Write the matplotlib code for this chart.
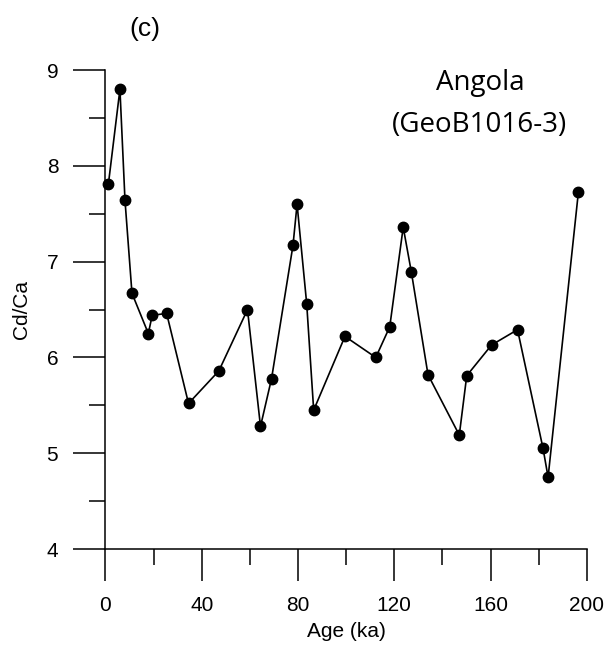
import matplotlib.pyplot as plt
from matplotlib.ticker import MultipleLocator

# Cd/Ca record, core GeoB1016-3 (Angola)
age_ka = [1.2, 6.0, 8.1, 11.0, 17.8, 19.4, 25.4, 34.5, 47.1, 59.0,
          64.4, 69.0, 77.9, 79.6, 83.6, 86.5, 99.5, 112.3, 118.1, 123.7,
          127.1, 134.0, 147.0, 150.1, 160.4, 171.2, 181.8, 183.9, 196.5]
cd_ca = [7.81, 8.80, 7.64, 6.67, 6.25, 6.44, 6.46, 5.52, 5.86, 6.50,
         5.28, 5.78, 7.17, 7.60, 6.56, 5.45, 6.22, 6.00, 6.32, 7.36,
         6.89, 5.82, 5.19, 5.81, 6.13, 6.29, 5.05, 4.75, 7.73]

plt.rcParams['font.family'] = ['Liberation Sans', 'DejaVu Sans']

fig = plt.figure(figsize=(6.07, 6.49), dpi=100)
ax = fig.add_axes([0.1738, 0.154, 0.793, 0.738])

ax.plot(age_ka, cd_ca, color='black', lw=1.2, marker='o', ms=7.5, clip_on=False)

ax.set_xlim(0, 200)
ax.set_ylim(4, 9)
ax.xaxis.set_major_locator(MultipleLocator(40))
ax.xaxis.set_minor_locator(MultipleLocator(20))
ax.yaxis.set_major_locator(MultipleLocator(1))
ax.yaxis.set_minor_locator(MultipleLocator(0.5))

for side in ['top', 'right']:
    ax.spines[side].set_visible(False)
for side in ['left', 'bottom']:
    ax.spines[side].set_linewidth(1.1)

ax.tick_params(which='major', direction='out', length=23, width=1.1, labelsize=15)
ax.tick_params(which='minor', direction='out', length=11.5, width=1.1)
ax.tick_params(axis='y', which='major', pad=11)
ax.tick_params(axis='x', which='major', pad=11)

ax.set_xlabel('Age (ka)', fontsize=15, labelpad=5)
ax.set_ylabel('Cd/Ca', fontsize=15, labelpad=11)

fig.text(0.239, 0.955, '(c)', fontsize=19, ha='center', va='center')
ax.text(0.778, 0.958, 'Angola', transform=ax.transAxes, fontsize=20,
        ha='center', va='baseline', family='Open Sans')
ax.text(0.778, 0.871, '(GeoB1016-3)', transform=ax.transAxes, fontsize=20,
        ha='center', va='baseline', family='Open Sans')

fig.savefig('out.png', dpi=100)
